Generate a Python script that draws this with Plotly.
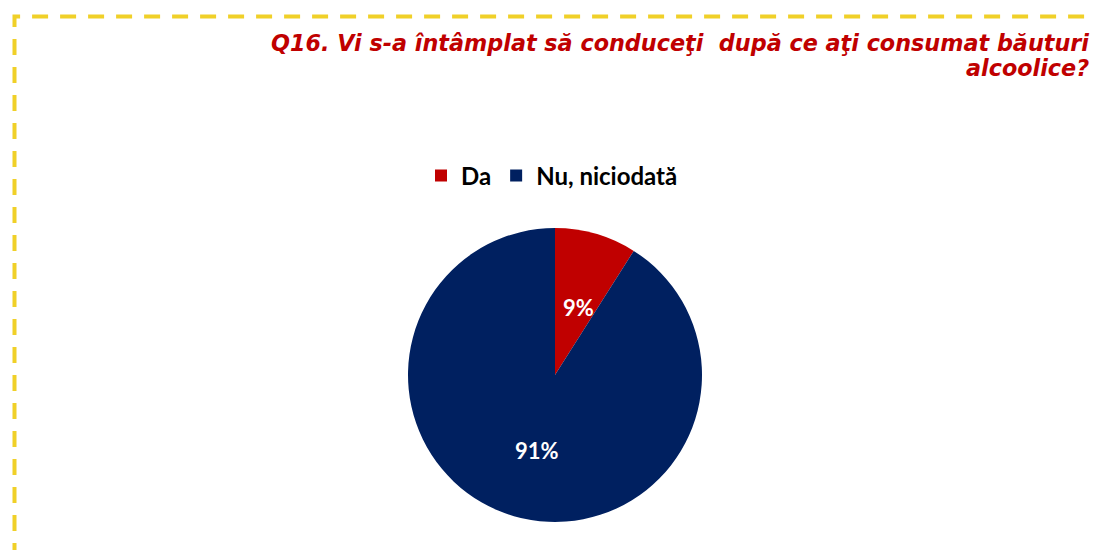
import math
import plotly.graph_objects as go

labels = ["Da", "Nu, niciodată"]
values = [9, 91]
colors = ["#C00000", "#002060"]
title_lines = ["Q16. Vi s-a întâmplat să conduceţi  după ce aţi consumat băuturi", "alcoolice?"]

W, H = 1096, 550
cx, cy, r = 555, 375, 147

fig = go.Figure()
fig.add_trace(go.Pie(
    labels=labels, values=values, sort=False, direction="clockwise", rotation=0,
    marker=dict(colors=colors, line=dict(color="white", width=0)),
    textinfo="none",
    domain=dict(x=[(cx - r) / W, (cx + r) / W], y=[1 - (cy + r) / H, 1 - (cy - r) / H]),
    showlegend=True, hoverinfo="label+percent",
))

# data labels placed along each slice's bisector (Excel-style, ~half radius)
total = sum(values)
cum = 0
for v in values:
    mid = (cum + v / 2) / total * 2 * math.pi
    cum += v
    px = cx + 0.51 * r * math.sin(mid)
    py = cy - 0.51 * r * math.cos(mid)
    fig.add_annotation(xref="paper", yref="paper", x=px / W, y=1 - py / H,
                       text=f"{round(v / total * 100)}%", showarrow=False,
                       xanchor="center", yanchor="middle", xshift=3, yshift=-4,
                       font=dict(family="Lato", size=22, color="white", weight="bold"))

fig.add_shape(type="rect", xref="paper", yref="paper",
              x0=14.5 / W, x1=1.05, y0=-0.05, y1=1 - 16.5 / H,
              line=dict(color="#F0D028", width=4, dash="16px,12px"), layer="above")

for i, (line, ymid) in enumerate(zip(title_lines, [43, 68])):
    fig.add_annotation(xref="paper", yref="paper", x=1091 / W, y=1 - ymid / H,
                       xanchor="right", yanchor="middle", align="right", showarrow=False,
                       text=line,
                       font=dict(family="DejaVu Sans", size=22.3, color="#C00000", style="italic", weight="bold"))

fig.update_layout(
    width=W, height=H, margin=dict(l=0, r=0, t=0, b=0),
    paper_bgcolor="white", plot_bgcolor="white",
    legend=dict(orientation="h", x=(cx - 3) / W, xanchor="center", y=1 - 176 / H, yanchor="middle",
                font=dict(family="Lato", size=24, color="black", weight="bold"),
                traceorder="normal", itemwidth=30),
)

fig.write_html("out.html", config={"displayModeBar": False},
               post_script="document.body.style.margin='0';document.body.style.padding='0';")
